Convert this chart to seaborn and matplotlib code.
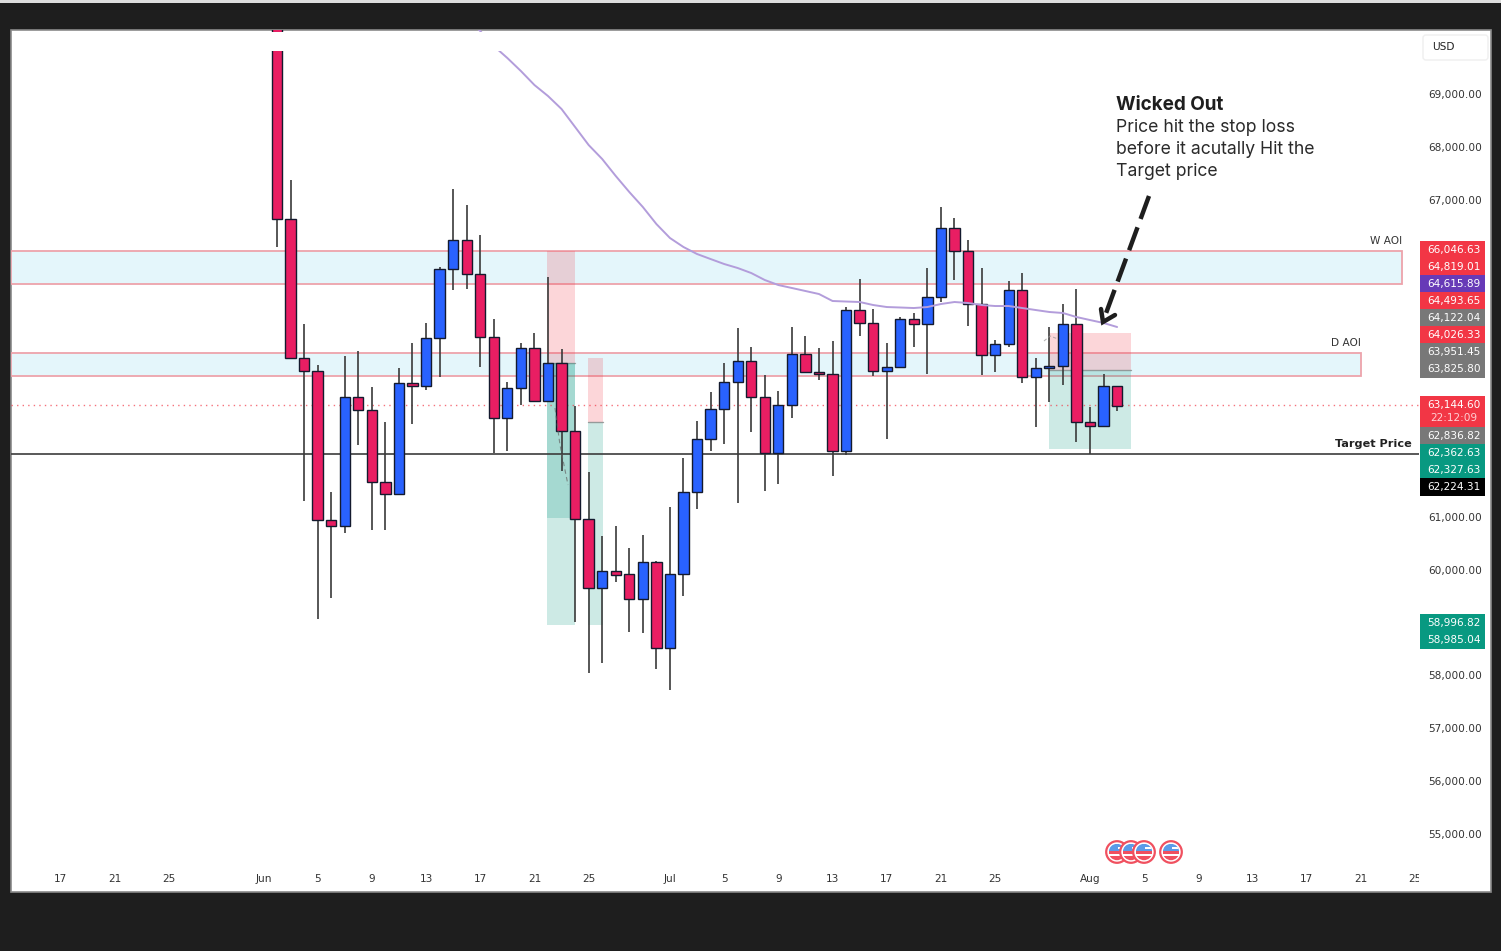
#!/usr/bin/env python3
"""Daily BTC/USD candles with AOI zones, position boxes and a 'wicked out' note."""

import matplotlib

matplotlib.use("Agg")
import matplotlib.pyplot as plt
import pandas as pd
import seaborn as sns
from matplotlib.patches import Circle, FancyBboxPatch, Rectangle
from matplotlib.transforms import Affine2D

WIDTH, HEIGHT = 1501, 951

# day 0 is June 1
DAYS = list(range(1, 64))
OPENS = [
    71000, 66635, 64005, 63759, 60940, 60827, 63268, 63022, 61659, 61432,
    63532, 63475, 64384, 65689, 66238, 65594, 64403, 62870, 63438, 64194,
    63192, 63911, 62624, 60959, 59654, 59975, 59919, 59445, 60146, 58519,
    59919, 61470, 62473, 63040, 63551, 63948, 63268, 62208, 63116, 64081,
    63740, 63702, 62246, 64913, 64668, 63759, 63835, 64743, 64648, 65159,
    66465, 66030, 65027, 64062, 64270, 65292, 63646, 63816, 63854, 64648,
    62794, 62719, 63475,
]
CLOSES = [
    66635, 64005, 63759, 60940, 60827, 63268, 63022, 61659, 61432, 63532,
    63475, 64384, 65689, 66238, 65594, 64403, 62870, 63438, 64194, 63192,
    63911, 62624, 60959, 59654, 59975, 59900, 59445, 60146, 58519, 59919,
    61470, 62473, 63040, 63551, 63948, 63268, 62208, 63116, 64081, 63740,
    63702, 62246, 64913, 64668, 63759, 63835, 64743, 64648, 65159, 66465,
    66030, 65027, 64062, 64270, 65292, 63646, 63816, 63854, 64648, 62794,
    62719, 63475, 63097,
]
HIGHS = [
    71000, 67373, 64648, 63873, 61470, 64043, 64138, 63456, 62794, 63816,
    64289, 64668, 65727, 67203, 66900, 66332, 64743, 63551, 64289, 64478,
    65538, 64176, 63097, 61849, 60637, 60827, 60410, 60657, 60165, 61186,
    62113, 62813, 63362, 63911, 64573, 64213, 63684, 63381, 64592, 64421,
    64194, 64327, 64970, 65500, 64932, 64289, 64781, 64856, 65708, 66862,
    66654, 66238, 65708, 64346, 65462, 65613, 64005, 64592, 65027, 65311,
    63078, 63702, 63475,
]
LOWS = [
    66105, 63987, 61300, 59068, 59464, 60694, 62359, 60751, 60751, 61432,
    62756, 63400, 63646, 65292, 65311, 63835, 62208, 62246, 63116, 63192,
    63192, 61868, 59010, 58046, 58235, 59767, 58821, 58803, 58122, 57724,
    59502, 61148, 62246, 62378, 61262, 62605, 61489, 61621, 62870, 63740,
    63589, 61773, 62170, 64421, 63665, 62473, 63816, 64213, 63702, 65065,
    65481, 64610, 63684, 63740, 64213, 63532, 62700, 63173, 63494, 62416,
    62189, 62719, 63002,
]

MA_DAYS = list(range(15, 64))
MA_VALUES = [
    70419, 70192, 69908, 69681, 69435, 69170, 68962, 68716, 68376, 68035,
    67770, 67449, 67146, 66862, 66540, 66276, 66105, 65973, 65878, 65784,
    65708, 65613, 65481, 65386, 65330, 65273, 65216, 65084, 65074, 65065,
    65008, 64970, 64961, 64951, 64970, 65027, 65065, 65046, 65008, 64989,
    64989, 64951, 64913, 64876, 64857, 64781, 64724, 64668, 64592,
]

X_TICKS = [-15, -11, -7, 0, 4, 8, 12, 16, 20, 24, 30, 34, 38, 42, 46, 50, 54, 61, 65, 69, 73, 77, 81, 85]
X_LABELS = ["17", "21", "25", "Jun", "5", "9", "13", "17", "21", "25", "Jul", "5", "9", "13",
            "17", "21", "25", "Aug", "5", "9", "13", "17", "21", "25"]
Y_TICKS = [69000, 68000, 67000, 61000, 60000, 58000, 57000, 56000, 55000]

# zones: low, high, last day
ZONE_LOWS = [65415, 63665]
ZONE_HIGHS = [66030, 64091]
ZONE_ENDS = [84.0, 81.0]
ZONE_NAMES = ["W AOI", "D AOI"]

# trade boxes: first day, last day, entry, stop, target
BOX_STARTS = [20.9, 23.95, 58.0]
BOX_ENDS = [23.0, 25.05, 64.0]
BOX_ENTRIES = [63911, 62794, 63778]
BOX_STOPS = [66030, 64005, 64478]
BOX_TARGETS = [58955, 58955, 62284]
SECOND_ENTRY = 63911
SECOND_TARGET = 60978

# where the two horizontal lines sit on the chart
LAST_LINE = 63110
TARGET_LINE = 62189

# right-hand price tags, top to bottom
TAG_TEXT = ["66,046.63", "64,819.01", "64,615.89", "64,493.65", "64,122.04", "64,026.33", "63,951.45",
            "63,825.80", "63,144.60", "22:12:09", "62,836.82", "62,362.63", "62,327.63", "62,224.31",
            "58,996.82", "58,985.04"]
TAG_COLORS = ["#f23645", "#f23645", "#673ab7", "#f23645", "#787878", "#f23645", "#787878",
              "#787878", "#f23645", "#f23645", "#787878", "#089981", "#089981", "#000000",
              "#089981", "#089981"]
TAG_ROWS = [250, 267, 284, 301, 318, 335, 352, 369, 405, 418, 436, 453, 470, 487, 623, 640]

RED = "#e91e63"
BLUE = "#2962ff"
EDGE = "#141a2e"
DARK = "#1e1e1e"

sns.set_theme(style="white")
plt.rcParams["font.family"] = ["DejaVu Sans"]

fig = plt.figure(figsize=(WIDTH / 100, HEIGHT / 100), dpi=100, facecolor=DARK)
# overlay furniture is placed in picture pixels
PX = Affine2D().scale(1 / WIDTH, -1 / HEIGHT).translate(0, 1) + fig.transFigure

fig.add_artist(Rectangle((0, 0), WIDTH, 3, transform=PX, fc="#dddddd", ec="none", zorder=-2))
fig.add_artist(Rectangle((10.5, 29.5), 1480, 862, transform=PX, fc="white", ec="#8a8a8a", lw=1.2, zorder=-2))

ax = fig.add_axes([11 / WIDTH, 1 - 891 / HEIGHT, 1408 / WIDTH, 861 / HEIGHT])
ax.patch.set_alpha(0)
for spine in ax.spines.values():
    spine.set_visible(False)
ax.set_xlim(-18.63, 85.28)
ax.set_ylim(53922, 70211)

for low, high, end, name in zip(ZONE_LOWS, ZONE_HIGHS, ZONE_ENDS, ZONE_NAMES):
    ax.add_patch(Rectangle((-18.63, low), end + 18.63, high - low, fc="#e4f6fb", ec="#eda3ab", lw=1.3, zorder=1))
    ax.text(end, high + 95, name, ha="right", va="bottom", fontsize=7.6, color="#333333")

for start, end, entry, stop, target in zip(BOX_STARTS, BOX_ENDS, BOX_ENTRIES, BOX_STOPS, BOX_TARGETS):
    ax.add_patch(Rectangle((start, entry), end - start, stop - entry, fc="#f23645", alpha=0.2, ec="none", zorder=2))
    ax.add_patch(Rectangle((start, target), end - start, entry - target, fc="#089981", alpha=0.2, ec="none", zorder=2))
    ax.plot([start, end], [entry, entry], color="#888888", lw=1, alpha=0.8, zorder=2)
ax.add_patch(Rectangle((BOX_STARTS[0], SECOND_TARGET), BOX_ENDS[0] - BOX_STARTS[0], SECOND_ENTRY - SECOND_TARGET,
                       fc="#089981", alpha=0.2, ec="none", zorder=2))

ax.axhline(LAST_LINE, color="#f23645", lw=1, ls=(0, (1, 3)), alpha=0.7, zorder=2)
ax.axhline(TARGET_LINE, color="#3c3c3c", lw=1.2, zorder=2)
ax.text(84.76, TARGET_LINE + 95, "Target Price", ha="right", va="bottom", fontsize=8.1,
        fontweight="bold", color="#222222")

candles = pd.DataFrame({"day": DAYS, "open": OPENS, "close": CLOSES, "high": HIGHS, "low": LOWS})
candles["color"] = [BLUE if c >= o else RED for o, c in zip(candles.open, candles.close)]
candles["bottom"] = candles[["open", "close"]].min(axis=1)
candles["height"] = (candles.open - candles.close).abs()

ax.vlines(candles.day, candles.low, candles.high, color="#3a3a3a", lw=1.2, zorder=3)
ax.bar(candles.day, candles.height, bottom=candles.bottom, width=0.76, color=candles.color,
       edgecolor=EDGE, linewidth=1.0, zorder=4)

ma = pd.DataFrame({"day": MA_DAYS, "value": MA_VALUES})
sns.lineplot(data=ma, x="day", y="value", color="#b39ddb", lw=1.4, ax=ax, zorder=5)
ax.set_xlabel("")
ax.set_ylabel("")

# blanked strip across the top of the shot
ax.add_patch(Rectangle((-18.55, 69813), 103.8, 360, fc="white", ec="none", zorder=6))

ax.set_xticks(X_TICKS, X_LABELS)
ax.tick_params(axis="x", length=0, pad=-12.5, labelsize=7.6, labelcolor="#333333")
for label in ax.get_xticklabels():
    label.set_clip_on(True)
    label.set_clip_box(ax.bbox)
for label, text in zip(ax.get_xticklabels(), X_LABELS):
    if text in ("Jun", "Jul", "Aug"):
        label.set_fontweight("medium")

ax.yaxis.tick_right()
ax.set_yticks(Y_TICKS, [f"{v:,.2f}" for v in Y_TICKS])
ax.tick_params(axis="y", length=0, pad=6.5, labelsize=7.6, labelcolor="#333333")

# faint dashed leftovers from the drawing tools
fig.add_artist(plt.Line2D([555, 560, 568], [408, 445, 485], transform=PX, color="#666666", lw=0.8,
                          ls=(0, (4, 3)), alpha=0.7))
fig.add_artist(plt.Line2D([1044, 1050, 1058], [341, 336, 339], transform=PX, color="#999999", lw=0.8,
                          ls=(0, (3, 2)), alpha=0.7))

# price tags
for text, color, row in zip(TAG_TEXT, TAG_COLORS, TAG_ROWS):
    fig.add_artist(Rectangle((1420, row - 9), 65, 18, transform=PX, fc=color, ec="none"))
for text, color, row in zip(TAG_TEXT, TAG_COLORS, TAG_ROWS):
    fig.text(1454, row, text, transform=PX, ha="center", va="center", fontsize=7.6,
             color="#ffd0d4" if text == "22:12:09" else "white")

# currency box
fig.add_artist(FancyBboxPatch((1426, 38), 59, 19, boxstyle="round,pad=3,rounding_size=3", transform=PX,
                              fc="white", ec="#efefef", lw=1))
fig.text(1432, 47.5, "USD", transform=PX, ha="left", va="center", fontsize=7.6, color="#222222")


def draw_flag(cx, cy):
    ring = Circle((cx, cy), 10.8, transform=PX, fc="white", ec="#f0505f", lw=1.6)
    fig.add_artist(ring)
    clip = Circle((cx, cy), 8.2, transform=PX)
    for top, height, color in [(cy - 8, 7, "#5b9be8"), (cy - 1, 2.5, "#f0505f"), (cy + 3.5, 5, "#f0505f")]:
        stripe = Rectangle((cx - 8, top), 16, height, transform=PX, fc=color, ec="none")
        fig.add_artist(stripe)
        stripe.set_clip_path(clip)
    white = Rectangle((cx + 1, cy - 5), 8, 2, transform=PX, fc="white", ec="none")
    fig.add_artist(white)
    white.set_clip_path(clip)


for flag_x in [1117, 1131, 1144, 1171]:
    draw_flag(flag_x, 852)

# note and arrow
fig.text(1116, 105, "Wicked Out", transform=PX, ha="left", va="center", fontsize=13.6,
         family="Inter", fontweight="bold", color="#1e1e1e")
for row, line in zip([127, 149, 172], ["Price hit the stop loss", "before it acutally Hit the", "Target price"]):
    fig.text(1116, row, line, transform=PX, ha="left", va="center", fontsize=12.7,
             family="Inter", color="#2a2a2a")

fig.add_artist(plt.Line2D([1149, 1105], [196, 316], transform=PX, color="#1e1e1e", lw=3.2,
                          ls=(0, (5.5, 2.0))))
fig.add_artist(plt.Line2D([1101, 1103, 1115], [309, 322, 315], transform=PX, color="#1e1e1e", lw=3.2,
                          solid_joinstyle="miter"))

fig.savefig("out.png", dpi=100, facecolor=fig.get_facecolor())
